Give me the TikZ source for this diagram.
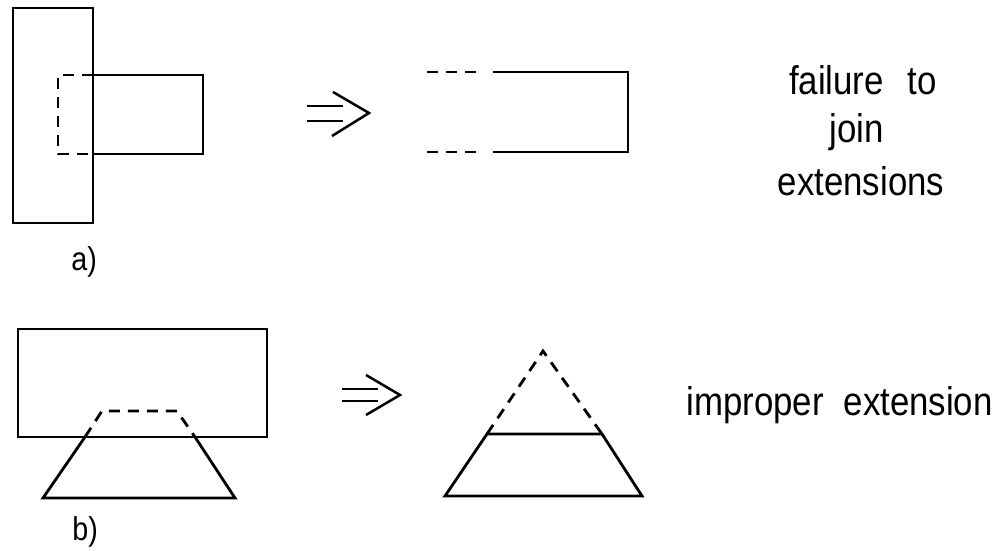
\documentclass[tikz,border=0pt]{standalone}
\usepackage{fontspec}
\setmainfont{Liberation Sans}[FakeStretch=0.87]
\begin{document}
\begin{tikzpicture}[x=1pt,y=-1pt, line width=2.8pt, line join=miter,
  dashline/.style={line width=2.8pt, dash pattern=on 11pt off 8pt},
  arrowline/.style={line width=2.5pt},
  lbl/.style={font=\fontsize{40}{50}\selectfont, inner sep=0pt},
  sublbl/.style={font=\fontsize{33}{40}\selectfont, inner sep=0pt}]
\useasboundingbox (0,0) rectangle (994,551);
% ---- part a
\coordinate (aTL) at (13,8);
\coordinate (aBR) at (93,223);
\draw (aTL) rectangle (aBR);
\coordinate (s1) at (93,75);
\coordinate (s2) at (203,75);
\coordinate (s3) at (203,154);
\coordinate (s4) at (93,154);
\coordinate (d1) at (58,75);
\coordinate (d2) at (58,154);
\draw (s1) -- (s2) -- (s3) -- (s4);
\draw[dashline] (s1) -- (d1) -- (d2) -- (s4);
% arrow 1
\draw[arrowline] (307,106) -- (343,106);
\draw[arrowline] (307,121) -- (343,121);
\draw[arrowline] (333,92) -- (369,113) -- (332,136);
% result a
\coordinate (r1) at (493,72);
\coordinate (r2) at (628,72);
\coordinate (r3) at (628,152);
\coordinate (r4) at (493,152);
\draw (r1) -- (r2) -- (r3) -- (r4);
\coordinate (e1) at (427,72);
\coordinate (e1b) at (484,72);
\coordinate (e2) at (427,152);
\coordinate (e2b) at (484,152);
\draw[dashline] (e1) -- (e1b);
\draw[dashline] (e2) -- (e2b);
% ---- part b
\coordinate (bTL) at (18,329);
\coordinate (bBR) at (267,437);
\draw (bTL) rectangle (bBR);
\coordinate (p1) at (85,437);
\coordinate (p2) at (43,498);
\coordinate (p3) at (235,498);
\coordinate (p4) at (195,437);
\coordinate (q1) at (102,411);
\coordinate (q2) at (177,411);
\draw (p1) -- (p2) -- (p3) -- (p4);
\draw[dashline] (p1) -- (q1) -- (q2) -- (p4);
% arrow 2
\draw[arrowline] (342,389) -- (378,389);
\draw[arrowline] (342,401) -- (378,401);
\draw[arrowline] (366,375) -- (400,395) -- (366,415);
% result b
\coordinate (u1) at (487,434);
\coordinate (u2) at (445,496);
\coordinate (u3) at (642,496);
\coordinate (u4) at (602,434);
\coordinate (apex) at (543,351);
\draw (u1) -- (u2) -- (u3) -- (u4) -- cycle;
\draw[dashline] (u1) -- (apex) -- (u4);
% ---- texts
\node[lbl, anchor=base] (t1) at (863,95) {failure\hspace{24pt}to};
\node[lbl, anchor=base] (t2) at (857,142) {join};
\node[lbl, anchor=base] (t3) at (861,195) {extensions};
\node[lbl, anchor=base west] (t4) at (685,415) {improper\hspace{20pt}extension};
\node[sublbl, anchor=base west] (la) at (70,270) {a)};
\node[sublbl, anchor=base west] (lb) at (71,540) {b)};
\end{tikzpicture}
\end{document}
